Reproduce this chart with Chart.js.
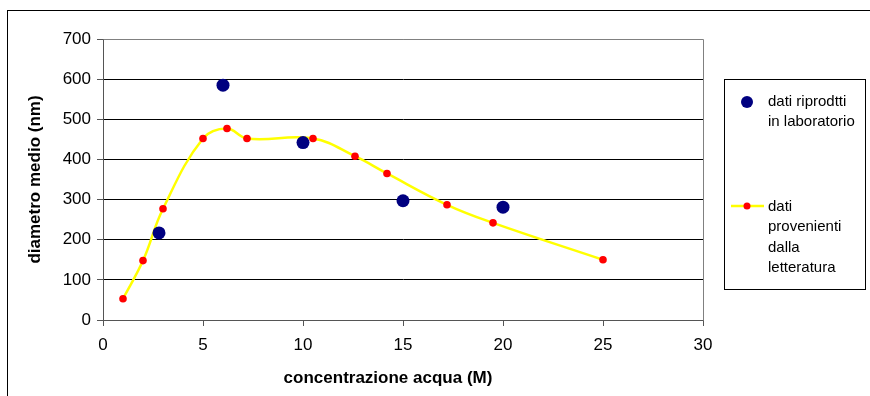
<!DOCTYPE html>
<html>
<head>
<meta charset="utf-8">
<script src="https://cdn.jsdelivr.net/npm/chart.js@4/dist/chart.umd.min.js"></script>
<style>
  html, body { margin: 0; padding: 0; background: #fff; }
  canvas { display: block; }
</style>
</head>
<body>
<canvas id="grafico" width="870" height="396"></canvas>
<script>
// dati riprodotti in laboratorio
const labX = [2.8, 6, 10, 15, 20];
const labY = [217, 585, 442, 297, 281];

// dati dalla letteratura
const litX = [1, 2, 3, 5, 6.2, 7.2, 10.5, 12.6, 14.2, 17.2, 19.5, 25];
const litY = [53, 148, 277, 452, 477, 452, 452, 408, 365, 287, 242, 150];

// testi della legenda (una riga per elemento)
const legendLab = ['dati riprodtti', 'in laboratorio'];
const legendLit = ['dati', 'provenienti', 'dalla', 'letteratura'];

const xTitle = 'concentrazione acqua (M)';
const yTitle = 'diametro medio (nm)';

const FONT = '"Liberation Sans", Arial, sans-serif';

const toPoints = (xs, ys) => xs.map((x, i) => ({ x: x, y: ys[i] }));

// cornice esterna, bordo dell'area del grafico, titolo asse x e legenda
const cornice = {
  id: 'cornice',
  beforeDraw(chart) {
    const c = chart.ctx;
    c.save();
    c.fillStyle = '#fff';
    c.fillRect(0, 0, chart.width, chart.height);
    c.restore();
  },
  afterDraw(chart) {
    const c = chart.ctx;
    const a = chart.chartArea;
    c.save();
    // bordo area grafico (alto e destra)
    c.strokeStyle = '#808080';
    c.lineWidth = 1;
    c.beginPath();
    c.moveTo(Math.round(a.left) + 0.5, Math.round(a.top) + 0.5);
    c.lineTo(Math.round(a.right) + 0.5, Math.round(a.top) + 0.5);
    c.lineTo(Math.round(a.right) + 0.5, Math.round(a.bottom) + 0.5);
    c.stroke();

    // cornice esterna
    c.strokeStyle = '#000';
    c.strokeRect(7.5, 10.5, chart.width, chart.height);

    // titolo asse x (centrato come nell'originale, un po' a sinistra)
    c.font = 'bold 17px ' + FONT;
    c.fillStyle = '#000';
    c.textAlign = 'center';
    c.textBaseline = 'middle';
    c.fillText(xTitle, 388, 378);

    // legenda
    c.strokeRect(724.5, 79.5, 141, 210);
    c.font = '15px ' + FONT;
    c.textAlign = 'left';

    c.fillStyle = '#000080';
    c.beginPath();
    c.arc(747, 102, 6, 0, Math.PI * 2);
    c.fill();
    c.fillStyle = '#000';
    legendLab.forEach((t, i) => c.fillText(t, 768, 102 + i * 20));

    c.strokeStyle = '#ffff00';
    c.lineWidth = 2.5;
    c.beginPath();
    c.moveTo(731, 206);
    c.lineTo(764, 206);
    c.stroke();
    c.fillStyle = '#ff0000';
    c.beginPath();
    c.arc(747, 206, 3.5, 0, Math.PI * 2);
    c.fill();
    c.fillStyle = '#000';
    legendLit.forEach((t, i) => c.fillText(t, 768, 207 + i * 20.3));
    c.restore();
  }
};

const ctx = document.getElementById('grafico').getContext('2d');
const grafico = new Chart(ctx, {
  type: 'scatter',
  data: {
    datasets: [
      {
        label: 'dati riprodtti in laboratorio',
        data: toPoints(labX, labY),
        backgroundColor: '#000080',
        borderColor: '#000080',
        borderWidth: 0,
        pointRadius: 6.5,
        showLine: false
      },
      {
        label: 'dati provenienti dalla letteratura',
        data: toPoints(litX, litY),
        backgroundColor: '#ff0000',
        pointBackgroundColor: '#ff0000',
        pointBorderWidth: 0,
        pointRadius: 3.8,
        borderColor: '#ffff00',
        borderWidth: 2.5,
        showLine: true,
        tension: 0.4
      }
    ]
  },
  options: {
    responsive: false,
    animation: false,
    layout: { padding: { left: 8, top: 39, right: 167, bottom: 0 } },
    plugins: {
      legend: { display: false },
      tooltip: { enabled: false }
    },
    scales: {
      x: {
        type: 'linear',
        min: 0,
        max: 30,
        ticks: {
          stepSize: 5,
          padding: 9,
          color: '#000',
          font: { family: FONT, size: 17 }
        },
        grid: {
          drawOnChartArea: false,
          drawTicks: true,
          tickLength: 6,
          tickColor: '#555'
        },
        border: { color: '#555', width: 1 },
        title: { display: false },
        afterFit(scale) { scale.height = 76; }
      },
      y: {
        type: 'linear',
        min: 0,
        max: 700,
        ticks: {
          stepSize: 100,
          padding: 6,
          color: '#000',
          font: { family: FONT, size: 17 }
        },
        grid: {
          color: (c) => (c.tick && c.tick.value === 700 ? '#808080' : '#000'),
          lineWidth: 1,
          tickLength: 6,
          tickColor: '#555'
        },
        border: { color: '#555', width: 1 },
        title: {
          display: true,
          text: yTitle,
          color: '#000',
          padding: { top: 17, bottom: 0 },
          font: { family: FONT, size: 17, weight: 'bold' }
        },
        afterFit(scale) { scale.width = 95; }
      }
    }
  },
  plugins: [cornice]
});
</script>
</body>
</html>
